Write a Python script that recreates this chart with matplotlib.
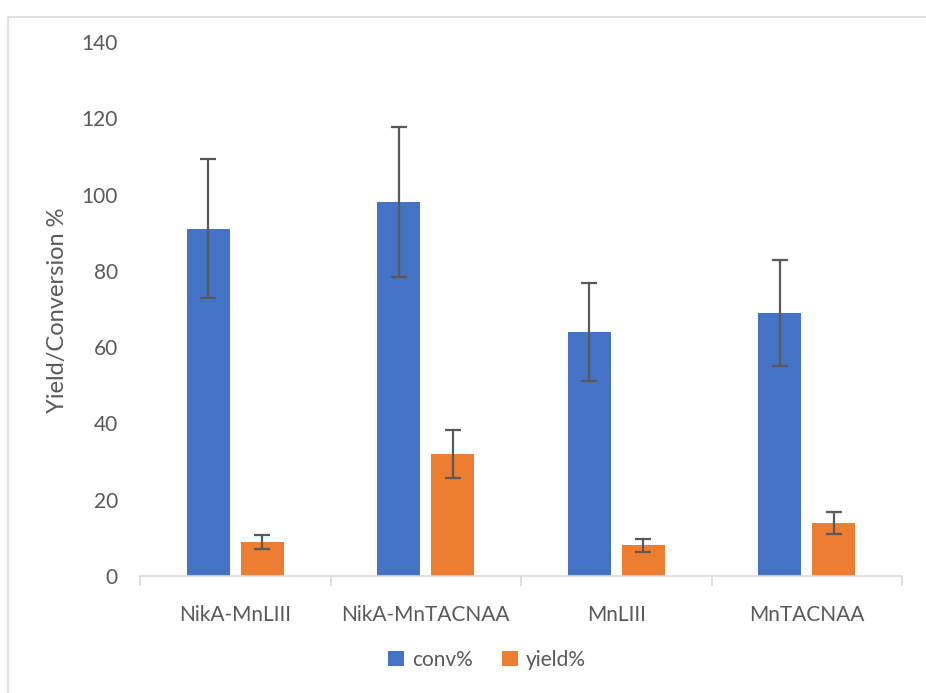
import numpy as np
import matplotlib
matplotlib.use('Agg')
from matplotlib import pyplot as plt
from matplotlib.patches import Rectangle

# data
categories = ['NikA-MnLIII', 'NikA-MnTACNAA', 'MnLIII', 'MnTACNAA']
conv = [91, 98, 64, 69]
conv_err = [18.2, 19.6, 12.8, 13.9]
yld = [9, 32, 8, 14]
yld_err = [1.8, 6.3, 1.7, 2.9]

blue = '#4472C4'
orange = '#ED7D31'
grey = '#595959'

plt.rcParams['font.family'] = ['Lato', 'DejaVu Sans']

fig = plt.figure(figsize=(9.26, 6.93), dpi=100)
# outer chart frame like excel
fig.patches.append(Rectangle((8/926, -0.01), 1.0, 1 - 17/693 + 0.01, transform=fig.transFigure,
                             fill=False, edgecolor='#D9D9D9', linewidth=1.2))
ax = fig.add_axes([140/926, 117/693, 762/926, 534/693])

x = np.arange(len(categories))
w = 0.225
off = 0.142
ekw = dict(ecolor=grey, elinewidth=1.6, capsize=6, capthick=1.6)
ax.bar(x - off, conv, w, color=blue, yerr=conv_err, error_kw=ekw, label='conv%', zorder=2)
ax.bar(x + off, yld, w, color=orange, yerr=yld_err, error_kw=ekw, label='yield%', zorder=2)

ax.set_xlim(-0.5, len(categories) - 0.5)
ax.set_ylim(0, 140)
ax.set_yticks(np.arange(0, 141, 20))
ax.set_xticks(x)
ax.set_xticklabels(categories)
ax.set_xticks(np.arange(-0.5, len(categories), 1), minor=True)
ax.tick_params(axis='x', which='major', length=0, pad=21, labelsize=15, labelcolor=grey)
ax.tick_params(axis='x', which='minor', length=7, color='#D9D9D9', width=1.2)
ax.tick_params(axis='y', length=0, pad=16, labelsize=15, labelcolor=grey)
for s in ['top', 'right', 'left']:
    ax.spines[s].set_visible(False)
ax.spines['bottom'].set_color('#D9D9D9')
ax.spines['bottom'].set_linewidth(1.2)

ax.set_ylabel('Yield/Conversion %', fontsize=17, color=grey)
ax.yaxis.set_label_coords(-0.095, 0.498)

leg = fig.legend(loc='center', bbox_to_anchor=(487/926, 1 - 660/693), ncol=2, frameon=False,
                 fontsize=15, handlelength=0.75, handleheight=0.75, handletextpad=0.4, columnspacing=1.4)
for t in leg.get_texts():
    t.set_color(grey)

fig.savefig('out.png', dpi=100)
